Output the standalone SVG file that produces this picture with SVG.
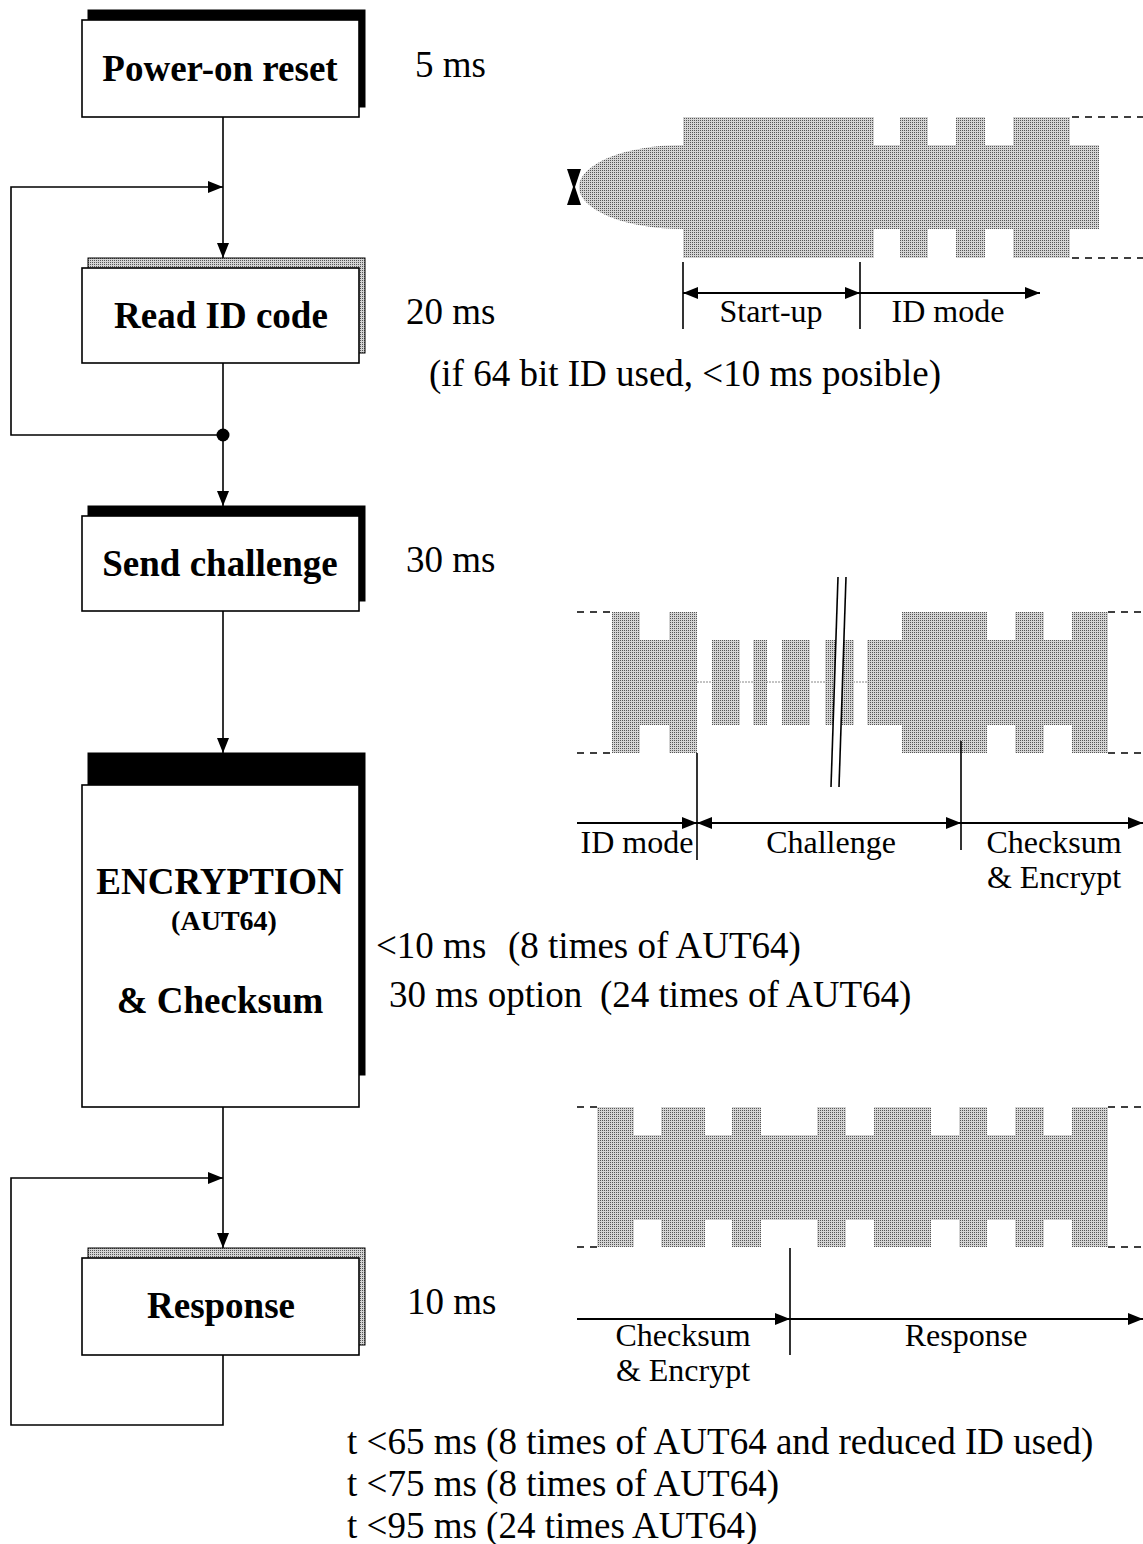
<svg xmlns="http://www.w3.org/2000/svg" width="1143" height="1544" viewBox="0 0 1143 1544">
<style>
.box{fill:#fff;stroke:#000;stroke-width:1.6}
.blk{fill:#000;stroke:#000;stroke-width:1}
.pat{fill:url(#dots);stroke:#000;stroke-width:1}
.lbl{font-family:"Liberation Serif","Times New Roman",serif;font-weight:bold;font-size:37px;text-anchor:middle;fill:#000}
.txt{font-family:"Liberation Serif","Times New Roman",serif;font-size:37px;fill:#000}
.wt{font-family:"Liberation Serif","Times New Roman",serif;font-size:32px;fill:#000;text-anchor:middle}
.ln{fill:none;stroke:#000;stroke-width:1.6}
.arr{fill:none;stroke:#000;stroke-width:1.6;marker-end:url(#ah)}
.darr{fill:none;stroke:#000;stroke-width:2;marker-end:url(#ah);marker-start:url(#ah)}
.sarr{fill:none;stroke:#000;stroke-width:2;marker-end:url(#ah)}
.dash{fill:none;stroke:#000;stroke-width:1.6;stroke-dasharray:7 6}
.wave{fill:url(#dots);stroke:none}
</style>
<defs>
<pattern id="dots" patternUnits="userSpaceOnUse" width="2" height="2">
<rect width="2" height="2" fill="#d4d4d4"/>
<rect x="0" y="0" width="1" height="1" fill="#555"/>
</pattern>
<marker id="ah" markerUnits="userSpaceOnUse" markerWidth="15" markerHeight="12" refX="15" refY="6" orient="auto-start-reverse" viewBox="0 0 15 12">
<path d="M0,0 L15,6 L0,12 Z" fill="#000"/>
</marker>
</defs>

<g id="connectors">
<line class="arr" x1="223" y1="117" x2="223" y2="258"/>
<polyline class="arr" points="223,435 11,435 11,187 223,187"/>
<line class="ln" x1="223" y1="363" x2="223" y2="435"/>
<circle cx="223" cy="435" r="6.5" fill="#000"/>
<line class="arr" x1="223" y1="435" x2="223" y2="506"/>
<line class="arr" x1="223" y1="611" x2="223" y2="753"/>
<line class="arr" x1="223" y1="1107" x2="223" y2="1248"/>
<polyline class="arr" points="223,1355 223,1425 11,1425 11,1178 223,1178"/>
</g>

<g id="power-on-reset">
<rect class="blk" x="88" y="10" width="277" height="97"/>
<rect class="box" x="82" y="20" width="277" height="97"/>
<text class="lbl" x="220" y="81">Power-on reset</text>
</g>
<g id="read-id-code">
<rect class="pat" x="88" y="258" width="277" height="95"/>
<rect class="box" x="82" y="268" width="277" height="95"/>
<text class="lbl" x="221" y="328">Read ID code</text>
</g>
<g id="send-challenge">
<rect class="blk" x="88" y="506" width="277" height="95"/>
<rect class="box" x="82" y="516" width="277" height="95"/>
<text class="lbl" x="220" y="576">Send challenge</text>
</g>
<g id="encryption">
<rect class="blk" x="88" y="753" width="277" height="322"/>
<rect class="box" x="82" y="785" width="277" height="322"/>
<text class="lbl" x="220" y="894">ENCRYPTION</text>
<text class="lbl" x="224" y="930" style="font-size:28px">(AUT64)</text>
<text class="lbl" x="220" y="1013">&amp; Checksum</text>
</g>
<g id="response">
<rect class="pat" x="88" y="1248" width="277" height="97"/>
<rect class="box" x="82" y="1258" width="277" height="97"/>
<text class="lbl" x="221" y="1318">Response</text>
</g>

<g id="timing-texts">
<text class="txt" x="415" y="77">5 ms</text>
<text class="txt" x="406" y="324">20 ms</text>
<text class="txt" x="429" y="386">(if 64 bit ID used, &lt;10 ms posible)</text>
<text class="txt" x="406" y="572">30 ms</text>
<text class="txt" x="376" y="958">&lt;10 ms<tspan x="508">(8 times of AUT64)</tspan></text>
<text class="txt" x="389" y="1007">30 ms option<tspan x="600">(24 times of AUT64)</tspan></text>
<text class="txt" x="407" y="1314">10 ms</text>
<text class="txt" x="347" y="1454">t &lt;65 ms (8 times of AUT64 and reduced ID used)</text>
<text class="txt" x="347" y="1496">t &lt;75 ms (8 times of AUT64)</text>
<text class="txt" x="347" y="1538">t &lt;95 ms (24 times AUT64)</text>
</g>

<g id="waveform-1">
<path class="wave" d="M683,145 A104,42 0 0 0 683,229 Z"/>
<rect class="wave" x="683" y="117" width="191" height="141"/>
<rect class="wave" x="874" y="145" width="225" height="84"/>
<rect class="wave" x="900" y="117" width="28" height="141"/>
<rect class="wave" x="956" y="117" width="29" height="141"/>
<rect class="wave" x="1013" y="117" width="57" height="141"/>
<path d="M567,169 L581,169 L575,187 L581,205 L567,205 L573,187 Z" fill="#000"/>
<line class="dash" x1="1072" y1="117" x2="1143" y2="117"/>
<line class="dash" x1="1072" y1="258" x2="1143" y2="258"/>
<line class="ln" x1="683" y1="262" x2="683" y2="329"/>
<line class="ln" x1="860" y1="262" x2="860" y2="329"/>
<line class="darr" x1="683" y1="293" x2="860" y2="293"/>
<line class="sarr" x1="860" y1="293" x2="1040" y2="293"/>
<text class="wt" x="771" y="322">Start-up</text>
<text class="wt" x="948" y="322">ID mode</text>
</g>

<g id="waveform-2">
<line x1="697" y1="682" x2="867" y2="682" stroke="#888" stroke-width="1" stroke-dasharray="2 1"/>
<rect class="wave" x="612" y="640" width="85" height="85"/>
<rect class="wave" x="612" y="612" width="28" height="141"/>
<rect class="wave" x="669" y="612" width="28" height="141"/>
<rect class="wave" x="712" y="640" width="28" height="85"/>
<rect class="wave" x="753" y="640" width="14" height="85"/>
<rect class="wave" x="782" y="640" width="28" height="85"/>
<rect class="wave" x="825" y="640" width="29" height="85"/>
<rect class="wave" x="867" y="640" width="241" height="85"/>
<rect class="wave" x="902" y="612" width="85" height="141"/>
<rect class="wave" x="1015" y="612" width="29" height="141"/>
<rect class="wave" x="1072" y="612" width="36" height="141"/>
<polygon points="838,577 846,577 839,787 831,787" fill="#fff"/>
<line class="ln" x1="838" y1="577" x2="831" y2="787" stroke-width="1.4"/>
<line class="ln" x1="846" y1="577" x2="839" y2="787" stroke-width="1.4"/>
<line class="dash" x1="577" y1="612" x2="612" y2="612"/>
<line class="dash" x1="577" y1="753" x2="612" y2="753"/>
<line class="dash" x1="1108" y1="612" x2="1143" y2="612"/>
<line class="dash" x1="1108" y1="753" x2="1143" y2="753"/>
<line class="ln" x1="697" y1="753" x2="697" y2="860"/>
<line class="ln" x1="961" y1="741" x2="961" y2="850"/>
<line class="sarr" x1="577" y1="823" x2="697" y2="823"/>
<line class="darr" x1="697" y1="823" x2="961" y2="823"/>
<line class="sarr" x1="961" y1="823" x2="1143" y2="823"/>
<text class="wt" x="637" y="853">ID mode</text>
<text class="wt" x="831" y="853">Challenge</text>
<text class="wt" x="1054" y="853">Checksum</text>
<text class="wt" x="1054" y="888">&amp; Encrypt</text>
</g>

<g id="waveform-3">
<rect class="wave" x="597" y="1135" width="511" height="85"/>
<rect class="wave" x="597" y="1107" width="37" height="140"/>
<rect class="wave" x="661" y="1107" width="44" height="140"/>
<rect class="wave" x="732" y="1107" width="29" height="140"/>
<rect class="wave" x="817" y="1107" width="29" height="140"/>
<rect class="wave" x="874" y="1107" width="57" height="140"/>
<rect class="wave" x="959" y="1107" width="28" height="140"/>
<rect class="wave" x="1015" y="1107" width="29" height="140"/>
<rect class="wave" x="1072" y="1107" width="36" height="140"/>
<line class="dash" x1="577" y1="1107" x2="597" y2="1107"/>
<line class="dash" x1="577" y1="1247" x2="597" y2="1247"/>
<line class="dash" x1="1108" y1="1107" x2="1143" y2="1107"/>
<line class="dash" x1="1108" y1="1247" x2="1143" y2="1247"/>
<line class="ln" x1="790" y1="1248" x2="790" y2="1355"/>
<line class="sarr" x1="577" y1="1319" x2="790" y2="1319"/>
<line class="sarr" x1="790" y1="1319" x2="1143" y2="1319"/>
<text class="wt" x="683" y="1346">Checksum</text>
<text class="wt" x="683" y="1381">&amp; Encrypt</text>
<text class="wt" x="966" y="1346">Response</text>
</g>
</svg>
